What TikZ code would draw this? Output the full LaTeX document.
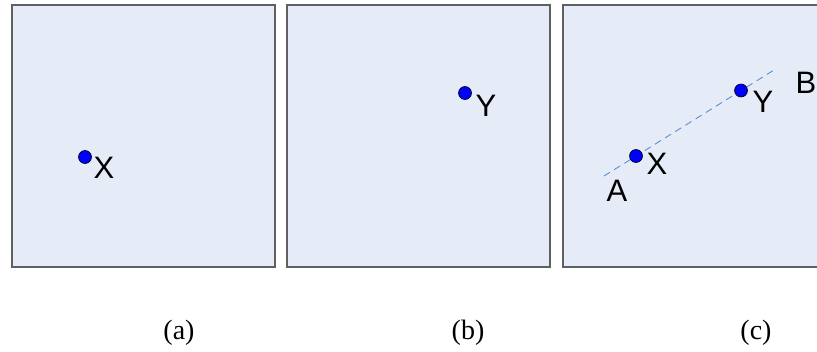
\documentclass[tikz,border=0pt]{standalone}
\usepackage{fontspec}
\setmainfont{Liberation Serif}
\setsansfont{Liberation Sans}
\begin{document}
\begin{tikzpicture}[x=1pt,y=-1pt,
  panel/.style={draw={rgb,255:red,96;green,96;blue,96}, line width=1.3pt, fill={rgb,255:red,230;green,236;blue,247}},
  pt/.style={circle, draw=black, line width=0.6pt, fill={rgb,255:red,0;green,0;blue,255}, inner sep=0pt, minimum size=13pt},
  lbl/.style={font=\sffamily\fontsize{31}{31}\selectfont, inner sep=0pt, anchor=center},
  captxt/.style={font=\rmfamily\fontsize{28}{28}\selectfont, inner sep=0pt, anchor=center},
  guide/.style={dashed, dash pattern=on 7pt off 5pt, line width=0.9pt, draw={rgb,255:red,90;green,140;blue,215}}]
\useasboundingbox (0,0) rectangle (817,351);
\clip (0,0) rectangle (817,351);
% panels
\draw[panel] (12,5) rectangle (275,267);
\draw[panel] (287,5) rectangle (550,267);
\draw[panel] (563,5) rectangle (830,267);
% panel (a)
\node[pt] (xa) at (85,157) {};
\node[lbl] (lxa) at (104,168) {X};
% panel (b)
\node[pt] (yb) at (465,93) {};
\node[lbl] (lyb) at (486,106) {Y};
% panel (c)
\coordinate (A) at (604,176);
\coordinate (B) at (774,70);
\draw[guide] (A) -- (B);
\node[pt] (xc) at (636,156) {};
\node[pt] (yc) at (741,90.5) {};
\node[lbl] (lxc) at (657,164) {X};
\node[lbl] (lyc) at (763,102) {Y};
\node[lbl] (la) at (617,191) {A};
\node[lbl] (lb) at (806,83) {B};
% captions
\node[captxt] (ca) at (179,333) {(a)};
\node[captxt] (cb) at (468,333) {(b)};
\node[captxt] (cc) at (756,333) {(c)};
\end{tikzpicture}
\end{document}
